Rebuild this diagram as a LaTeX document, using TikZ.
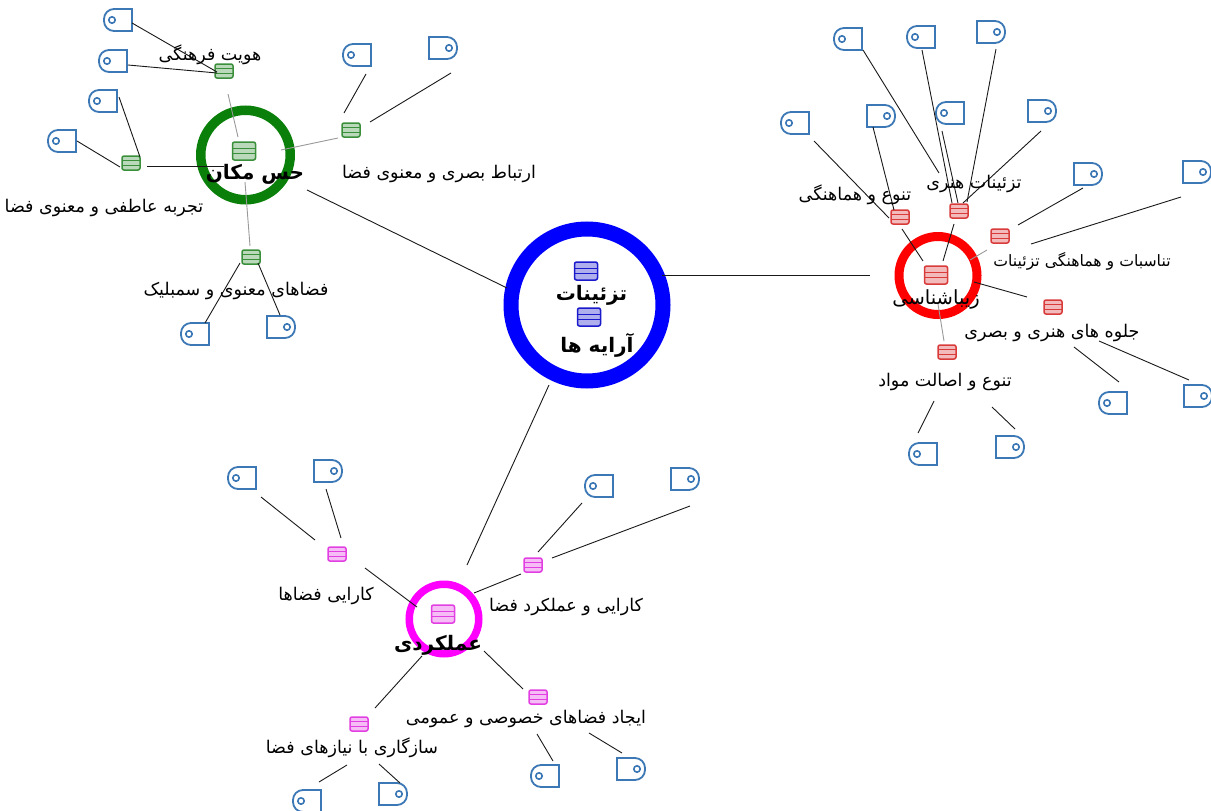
\documentclass[tikz,border=0pt]{standalone}
\usepackage{fontspec}
\TeXXeTstate=1
\newfontfamily\arabicfont[Script=Arabic]{DejaVu Sans}
\def\rtl#1{\beginR #1\endR}
\def\pbb{path picture bounding box}
\definecolor{fileblue}{HTML}{3B78B5}
\definecolor{ringblue}{HTML}{0000FF}
\definecolor{ringgreen}{HTML}{0A800A}
\definecolor{ringred}{HTML}{FF0000}
\definecolor{ringpink}{HTML}{FF00FF}
\definecolor{tagred}{HTML}{D93A3A}
\definecolor{tagpink}{HTML}{E23FE2}
\definecolor{taggreen}{HTML}{3A8F3A}
\definecolor{tagblue}{HTML}{1A1ACC}
\tikzset{
	hubring/.style 2 args={circle, draw=#1, line width=#2, inner sep=0},
	linkline/.style={line width=0.9pt, color=black!90},
	fadeline/.style={line width=0.9pt, color=black!40},
	stripes/.style={rounded corners=2pt, draw=#1, line width=1.5pt, fill=#1!35, inner sep=0,
		path picture={
			\draw[#1, line width=1.1pt] ([yshift=2.2pt]\pbb.west) -- ([yshift=2.2pt]\pbb.east);
			\draw[#1, line width=1.1pt] ([yshift=-2.2pt]\pbb.west) -- ([yshift=-2.2pt]\pbb.east);
		}},
	tagbox/.style={stripes=#1, minimum width=18pt, minimum height=14pt},
	hubicon/.style={stripes=#1, minimum width=23pt, minimum height=18pt},
	fileL/.style={rectangle, minimum width=30pt, minimum height=24pt, inner sep=0,
		path picture={
			\draw[fileblue, line width=1.8pt] ([xshift=-1pt,yshift=-1pt]\pbb.north east) [rounded corners=10pt] -- ([xshift=1pt,yshift=-1pt]\pbb.north west) -- ([xshift=1pt,yshift=1pt]\pbb.south west) [sharp corners] -- ([xshift=-1pt,yshift=1pt]\pbb.south east) -- cycle;
			\draw[fileblue, line width=1.6pt] ([xshift=-6pt]\pbb.center) circle (3.2pt);
		}},
	fileR/.style={rectangle, minimum width=30pt, minimum height=24pt, inner sep=0,
		path picture={
			\draw[fileblue, line width=1.8pt] ([xshift=1pt,yshift=-1pt]\pbb.north west) [rounded corners=10pt] -- ([xshift=-1pt,yshift=-1pt]\pbb.north east) -- ([xshift=-1pt,yshift=1pt]\pbb.south east) [sharp corners] -- ([xshift=1pt,yshift=1pt]\pbb.south west) -- cycle;
			\draw[fileblue, line width=1.6pt] ([xshift=6pt]\pbb.center) circle (3.2pt);
		}},
	leaflabel/.style={font=\arabicfont\fontsize{17.5}{17.5}\selectfont, inner sep=0},
	hublabel/.style={font=\arabicfont\bfseries\fontsize{20}{20}\selectfont, inner sep=0},
}
\begin{document}
\begin{tikzpicture}[x=1pt, y=-1pt]
	%%%%% START %%%%%
	\useasboundingbox (0, 0) rectangle (1211, 811);
	
	\node[hubring={ringblue}{15pt}, minimum size=152pt] (hubB) at (587, 305) {};
	\node[hubring={ringgreen}{9.5pt}, minimum size=89.5pt] (hubG) at (245.5, 155) {};
	\node[hubring={ringred}{9pt}, minimum size=78pt] (hubR) at (938, 275.5) {};
	\node[hubring={ringpink}{7.5pt}, minimum size=69.5pt] (hubP) at (444, 619) {};
	
	\node[hubicon=tagblue] (iconBa) at (586, 271) {};
	\node[hubicon=tagblue] (iconBb) at (589, 317) {};
	\node[hubicon=taggreen] (iconG) at (244, 151) {};
	\node[hubicon=tagred] (iconR) at (936, 275) {};
	\node[hubicon=tagpink] (iconP) at (443, 614) {};
	
	\node[tagbox=taggreen] (tagGa) at (224, 71) {};
	\node[tagbox=taggreen] (tagGb) at (351, 130) {};
	\node[tagbox=taggreen] (tagGc) at (131, 163) {};
	\node[tagbox=taggreen] (tagGd) at (251, 257) {};
	
	\node[tagbox=tagred] (tagRa) at (900, 217) {};
	\node[tagbox=tagred] (tagRb) at (959, 211) {};
	\node[tagbox=tagred] (tagRc) at (1000, 236) {};
	\node[tagbox=tagred] (tagRd) at (1053, 307) {};
	\node[tagbox=tagred] (tagRe) at (947, 352) {};
	
	\node[tagbox=tagpink] (tagPa) at (337, 554) {};
	\node[tagbox=tagpink] (tagPb) at (533, 565) {};
	\node[tagbox=tagpink] (tagPc) at (538, 697) {};
	\node[tagbox=tagpink] (tagPd) at (359, 724) {};
	
	\node[fileL] (fileGa) at (118, 20) {};
	\node[fileL] (fileGb) at (113, 61) {};
	\node[fileL] (fileGc) at (103, 101) {};
	\node[fileL] (fileGd) at (62, 141) {};
	\node[fileL] (fileGe) at (357, 55) {};
	\node[fileR] (fileGf) at (443, 48) {};
	\node[fileL] (fileGg) at (195, 334) {};
	\node[fileR] (fileGh) at (281, 327) {};
	
	\node[fileL] (fileRa) at (795, 123) {};
	\node[fileR] (fileRb) at (881, 116) {};
	\node[fileL] (fileRc) at (848, 39) {};
	\node[fileL] (fileRd) at (921, 37) {};
	\node[fileR] (fileRe) at (991, 32) {};
	\node[fileL] (fileRf) at (950, 113) {};
	\node[fileR] (fileRg) at (1042, 111) {};
	\node[fileR] (fileRh) at (1088, 174) {};
	\node[fileR] (fileRi) at (1197, 172) {};
	\node[fileL] (fileRj) at (1113, 403) {};
	\node[fileR] (fileRk) at (1198, 396) {};
	\node[fileL] (fileRl) at (923, 454) {};
	\node[fileR] (fileRm) at (1010, 447) {};
	
	\node[fileL] (filePa) at (242, 478) {};
	\node[fileR] (filePb) at (328, 471) {};
	\node[fileL] (filePc) at (599, 486) {};
	\node[fileR] (filePd) at (685, 479) {};
	\node[fileL] (filePe) at (307, 801) {};
	\node[fileR] (filePf) at (393, 794) {};
	\node[fileL] (filePg) at (545, 776) {};
	\node[fileR] (filePh) at (631, 769) {};
	
	\draw[linkline] ([shift={(-80,-17)}]hubB.center) -- ([shift={(61.5,35)}]hubG.center);
	\draw[linkline] ([shift={(75,-30)}]hubB.center) -- ([shift={(-68,-0.5)}]hubR.center);
	\draw[linkline] ([shift={(-38,80)}]hubB.center) -- ([shift={(23,-54)}]hubP.center);
	
	\draw[linkline] ([shift={(-7,1)}]tagGa.center) -- ([shift={(14,3)}]fileGa.center);
	\draw[linkline] ([shift={(-7,2)}]tagGa.center) -- ([shift={(15,4)}]fileGb.center);
	\draw[fadeline] ([shift={(4,23)}]tagGa.center) -- ([shift={(-7.5,-18)}]hubG.center);
	\draw[fadeline] ([shift={(-13,8)}]tagGb.center) -- ([shift={(35.5,-5)}]hubG.center);
	\draw[linkline] ([shift={(-7,-17)}]tagGb.center) -- ([shift={(9,19)}]fileGe.center);
	\draw[linkline] ([shift={(19,-8)}]tagGb.center) -- ([shift={(8,25)}]fileGf.center);
	\draw[linkline] ([shift={(9,-6)}]tagGc.center) -- ([shift={(16,-4)}]fileGc.center);
	\draw[linkline] ([shift={(-11,4)}]tagGc.center) -- ([shift={(15,0)}]fileGd.center);
	\draw[linkline] ([shift={(16,3)}]tagGc.center) -- ([shift={(-21.5,11)}]hubG.center);
	\draw[fadeline] ([shift={(-1,-11)}]tagGd.center) -- ([shift={(-0.5,27)}]hubG.center);
	\draw[linkline] ([shift={(-11,6)}]tagGd.center) -- ([shift={(10,-11)}]fileGg.center);
	\draw[linkline] ([shift={(7,6)}]tagGd.center) -- ([shift={(-1,-12)}]fileGh.center);
	
	\draw[linkline] ([shift={(-11,1)}]tagRa.center) -- ([shift={(19,18)}]fileRa.center);
	\draw[linkline] ([shift={(-6,-7)}]tagRa.center) -- ([shift={(-8,11)}]fileRb.center);
	\draw[linkline] ([shift={(-20,-38)}]tagRb.center) -- ([shift={(15,11)}]fileRc.center);
	\draw[linkline] ([shift={(-7,-8)}]tagRb.center) -- ([shift={(1,13)}]fileRd.center);
	\draw[linkline] ([shift={(8,-9)}]tagRb.center) -- ([shift={(5,17)}]fileRe.center);
	\draw[linkline] ([shift={(-1,-8)}]tagRb.center) -- ([shift={(-8,18)}]fileRf.center);
	\draw[linkline] ([shift={(4,-8)}]tagRb.center) -- ([shift={(-1,20)}]fileRg.center);
	\draw[linkline] ([shift={(2,12)}]tagRa.center) -- ([shift={(-15,-14.5)}]hubR.center);
	\draw[linkline] ([shift={(-5,13)}]tagRb.center) -- ([shift={(5,-14.5)}]hubR.center);
	\draw[fadeline] ([shift={(-13,14)}]tagRc.center) -- ([shift={(32,-15.5)}]hubR.center);
	\draw[linkline] ([shift={(-26,-10)}]tagRd.center) -- ([shift={(36,6.5)}]hubR.center);
	\draw[fadeline] ([shift={(-3,-11)}]tagRe.center) -- ([shift={(0,28.5)}]hubR.center);
	\draw[linkline] ([shift={(18,-11)}]tagRc.center) -- ([shift={(-5,14)}]fileRh.center);
	\draw[linkline] ([shift={(31,8)}]tagRc.center) -- ([shift={(-16,25)}]fileRi.center);
	\draw[linkline] ([shift={(21,40)}]tagRd.center) -- ([shift={(6,-21)}]fileRj.center);
	\draw[linkline] ([shift={(46,34)}]tagRd.center) -- ([shift={(-9,-16)}]fileRk.center);
	\draw[linkline] ([shift={(-13,49)}]tagRe.center) -- ([shift={(-5,-21)}]fileRl.center);
	\draw[linkline] ([shift={(45,55)}]tagRe.center) -- ([shift={(5,-18)}]fileRm.center);
	
	\draw[linkline] ([shift={(-22,-14)}]tagPa.center) -- ([shift={(19,19)}]filePa.center);
	\draw[linkline] ([shift={(4,-16)}]tagPa.center) -- ([shift={(-2,18)}]filePb.center);
	\draw[linkline] ([shift={(28,14)}]tagPa.center) -- ([shift={(-27,-12)}]hubP.center);
	\draw[linkline] ([shift={(-12,9)}]tagPb.center) -- ([shift={(30,-26)}]hubP.center);
	\draw[linkline] ([shift={(5,-13)}]tagPb.center) -- ([shift={(-17,17)}]filePc.center);
	\draw[linkline] ([shift={(19,-7)}]tagPb.center) -- ([shift={(5,27)}]filePd.center);
	\draw[linkline] ([shift={(-15,-8)}]tagPc.center) -- ([shift={(40,32)}]hubP.center);
	\draw[linkline] ([shift={(16,-16)}]tagPd.center) -- ([shift={(-22,37)}]hubP.center);
	\draw[linkline] ([shift={(-1,37)}]tagPc.center) -- ([shift={(8,-15)}]filePg.center);
	\draw[linkline] ([shift={(51,36)}]tagPc.center) -- ([shift={(-9,-16)}]filePh.center);
	\draw[linkline] ([shift={(-12,41)}]tagPd.center) -- ([shift={(12,-19)}]filePe.center);
	\draw[linkline] ([shift={(20,40)}]tagPd.center) -- ([shift={(7,-11)}]filePf.center);
	
	\node[hublabel] (textBa) at (591.5, 295) {\rtl{تزئینات}};
	\node[hublabel] (textBb) at (597, 345) {\rtl{آرایه ها}};
	\node[hublabel] (textG) at (255, 174) {\rtl{حس مکان}};
	\node[hublabel, font=\arabicfont\fontsize{19.5}{19.5}\selectfont] (textR) at (936, 299) {\rtl{زیباشناسی}};
	\node[hublabel] (textP) at (438, 645) {\rtl{عملکردی}};
	
	\node[leaflabel] (textGa) at (210, 55) {\rtl{هویت فرهنگی}};
	\node[leaflabel] (textGb) at (439, 174) {\rtl{ارتباط بصری و معنوی فضا}};
	\node[leaflabel] (textGc) at (104, 208) {\rtl{تجربه عاطفی و معنوی فضا}};
	\node[leaflabel] (textGd) at (236, 291) {\rtl{فضاهای معنوی و سمبلیک}};
	
	\node[leaflabel] (textRa) at (855, 195) {\rtl{تنوع و هماهنگی}};
	\node[leaflabel] (textRb) at (974, 184) {\rtl{تزئینات هنری}};
	\node[leaflabel, font=\arabicfont\fontsize{15.7}{15.7}\selectfont] (textRc) at (1082, 261) {\rtl{تناسبات و هماهنگی تزئینات}};
	\node[leaflabel] (textRd) at (1052, 333) {\rtl{جلوه های هنری و بصری}};
	\node[leaflabel] (textRe) at (945, 382) {\rtl{تنوع و اصالت مواد}};
	
	\node[leaflabel] (textPa) at (326, 596) {\rtl{کارایی فضاها}};
	\node[leaflabel] (textPb) at (566, 607) {\rtl{کارایی و عملکرد فضا}};
	\node[leaflabel] (textPc) at (526, 719) {\rtl{ایجاد فضاهای خصوصی و عمومی}};
	\node[leaflabel] (textPd) at (352, 748) {\rtl{سازگاری با نیازهای فضا}};
	
	%%%%% END %%%%%
\end{tikzpicture}
\end{document}
